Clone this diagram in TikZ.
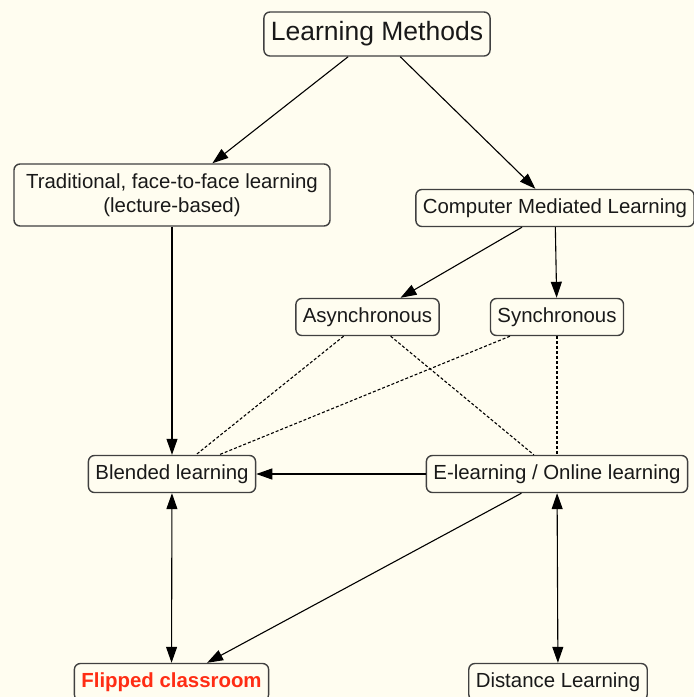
\documentclass[tikz,border=0pt]{standalone}
\usepackage{fontspec}
\setmainfont{Liberation Sans}
\usepackage{xcolor}
\usetikzlibrary{arrows.meta}
\definecolor{paper}{RGB}{255,253,240}
\definecolor{rim}{RGB}{64,64,64}
\definecolor{flipred}{RGB}{255,45,20}

\begin{document}
\begin{tikzpicture}[
  x=1pt,y=-1pt,
  >={Triangle[length=16pt,width=11pt]},
  box/.style={draw=rim,line width=1.4pt,rounded corners=6pt,minimum height=37pt,inner xsep=7pt,inner ysep=2pt,align=center,font=\fontsize{20.4}{24}\selectfont,text=black!90},
  headbox/.style={box,minimum height=44pt,font=\fontsize{26.5}{30}\selectfont},
  hot/.style={box,text=flipred,font=\fontsize{20.4}{24}\selectfont\bfseries},
  flow/.style={->,line width=1.1pt},
  both/.style={<->,line width=1.1pt},
  link/.style={line width=1.1pt,dash pattern=on 3pt off 2pt}
]
\fill[paper] (0,0) rectangle (694,697);
\useasboundingbox (0,0) rectangle (694,697);
\node[headbox] (methods) at (377,34) {Learning Methods};
\node[box,minimum width=316pt,minimum height=62pt] (trad) at (172,195) {Traditional, face-to-face learning\\(lecture-based)};
\node[box] (cml) at (555,208) {Computer Mediated Learning};
\node[box] (async) at (367.5,317) {Asynchronous};
\node[box] (sync) at (557,317) {Synchronous};
\node[box] (blend) at (172,474) {Blended learning};
\node[box] (elearn) at (557,474) {E-learning / Online learning};
\node[hot] (flip) at (171.5,682) {Flipped classroom};
\node[box] (dist) at (558,682) {Distance Learning};
\draw[flow] (methods)--(trad); \draw[flow] (methods)--(cml);
\draw[flow] (trad)--(blend); \draw[flow] (cml)--(async); \draw[flow] (cml)--(sync);
\draw[link] (async)--(blend); \draw[link] (sync)--(blend);
\draw[link] (async)--(elearn); \draw[link] (sync)--(elearn);
\draw[flow] (elearn)--(blend); \draw[flow] (elearn)--(flip);
\draw[both] (blend)--(flip); \draw[both] (elearn)--(dist);
\end{tikzpicture}
\end{document}
